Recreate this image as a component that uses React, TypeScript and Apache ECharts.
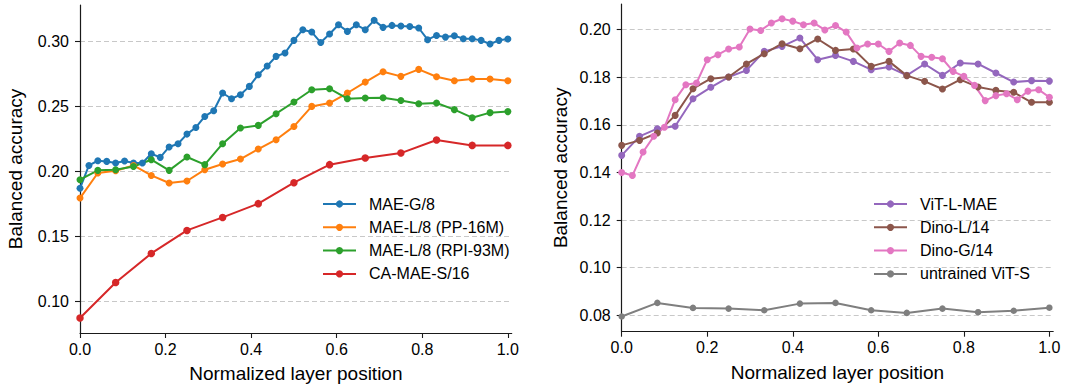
import React, { useEffect, useRef } from "react";
import * as echarts from "echarts";

// ---- Left panel data (balanced accuracy per normalized layer position) ----
const maeG8 = [0.187, 0.2046, 0.2082, 0.2077, 0.2065, 0.208, 0.2065, 0.2065, 0.2136, 0.2108, 0.2188, 0.2213, 0.2287, 0.2338, 0.2423, 0.2467, 0.2603, 0.2559, 0.259, 0.2654, 0.2744, 0.2811, 0.2885, 0.2911, 0.3008, 0.309, 0.3072, 0.2992, 0.3057, 0.3128, 0.3077, 0.3128, 0.309, 0.3162, 0.3108, 0.3123, 0.3118, 0.3115, 0.3103, 0.3013, 0.3046, 0.3033, 0.3044, 0.3021, 0.3021, 0.3008, 0.298, 0.3008, 0.3018];
const maeL8PP = [0.1795, 0.1988, 0.2005, 0.2046, 0.1969, 0.1911, 0.1926, 0.2013, 0.2057, 0.2095, 0.2172, 0.2244, 0.2346, 0.25, 0.2526, 0.2603, 0.2687, 0.2767, 0.2731, 0.2785, 0.2728, 0.2698, 0.2711, 0.2711, 0.2698];
const maeL8RPI = [0.1936, 0.2008, 0.2013, 0.2038, 0.209, 0.2008, 0.2111, 0.2052, 0.2213, 0.2334, 0.2354, 0.2444, 0.2534, 0.2628, 0.2636, 0.2559, 0.2565, 0.2567, 0.2546, 0.2521, 0.2526, 0.2475, 0.2413, 0.2452, 0.246];
const caMaeS16 = [0.0872, 0.1146, 0.1369, 0.1546, 0.1646, 0.1752, 0.1913, 0.2052, 0.2103, 0.2141, 0.2242, 0.22, 0.22];

// ---- Right panel data ----
const vitLMae = [0.1472, 0.1552, 0.1584, 0.1594, 0.171, 0.1758, 0.1801, 0.1829, 0.1909, 0.193, 0.1965, 0.1874, 0.1892, 0.1867, 0.1832, 0.1843, 0.1808, 0.1856, 0.1808, 0.186, 0.1856, 0.1818, 0.178, 0.1786, 0.1784];
const dinoL14 = [0.1514, 0.1535, 0.1566, 0.164, 0.1752, 0.1794, 0.1801, 0.1856, 0.1899, 0.1941, 0.192, 0.1961, 0.1913, 0.1919, 0.1846, 0.1867, 0.1807, 0.1783, 0.1751, 0.179, 0.1759, 0.1745, 0.1737, 0.1695, 0.1695];
const dinoG14 = [0.14, 0.1387, 0.1486, 0.1552, 0.159, 0.1706, 0.1769, 0.1776, 0.1874, 0.1895, 0.1919, 0.1927, 0.2003, 0.1997, 0.2028, 0.2046, 0.2036, 0.2021, 0.2028, 0.1999, 0.2018, 0.199, 0.1923, 0.194, 0.194, 0.1909, 0.1944, 0.1934, 0.1888, 0.1884, 0.1878, 0.1825, 0.1804, 0.1766, 0.1702, 0.1723, 0.1731, 0.1706, 0.1742, 0.1748, 0.1716];
const untrainedVitS = [0.0795, 0.0852, 0.0831, 0.0828, 0.0821, 0.0849, 0.0852, 0.0821, 0.081, 0.0828, 0.0813, 0.0819, 0.0832];

// ---- Names & ticks ----
const leftNames = ["MAE-G/8", "MAE-L/8 (PP-16M)", "MAE-L/8 (RPI-93M)", "CA-MAE-S/16"];
const rightNames = ["ViT-L-MAE", "Dino-L/14", "Dino-G/14", "untrained ViT-S"];
const xTicks = [0, 0.2, 0.4, 0.6, 0.8, 1.0];
const leftYTicks = [0.1, 0.15, 0.2, 0.25, 0.3];
const rightYTicks = [0.08, 0.1, 0.12, 0.14, 0.16, 0.18, 0.2];

const leftColors = ["#1f77b4", "#ff7f0e", "#2ca02c", "#d62728"];
const rightColors = ["#9467bd", "#8c564b", "#e377c2", "#7f7f7f"];

const FONT = "'Liberation Sans', Arial, Helvetica, sans-serif";

// normalized layer position for layer i of n
const toPoints = (vals: number[]) => vals.map((v, i) => [i / (vals.length - 1), v]);

export default function App() {
  const ref = useRef<HTMLDivElement>(null);

  useEffect(() => {
    if (!ref.current) return;
    const chart = echarts.init(ref.current, undefined, { renderer: "svg" });

    const axisLine = { show: true, lineStyle: { color: "#1a1a1a", width: 1.2 } };
    const axisTick = (vals: number[]) => ({
      show: true,
      length: 5,
      inside: false,
      customValues: vals,
      lineStyle: { color: "#1a1a1a", width: 1.1 },
    });
    const xAxisCommon = (gridIndex: number) => ({
      type: "value",
      gridIndex,
      min: 0,
      max: 1.009,
      name: "Normalized layer position",
      nameLocation: "middle",
      nameGap: 31,
      nameTextStyle: { fontSize: 19, color: "#000", fontFamily: FONT },
      axisLine,
      axisTick: axisTick(xTicks),
      axisLabel: {
        customValues: xTicks,
        formatter: (v: number) => v.toFixed(1),
        fontSize: 16,
        color: "#000",
        fontFamily: FONT,
        margin: 8,
      },
      splitLine: { show: false },
    });
    const yAxisCommon = (gridIndex: number, min: number, max: number, ticks: number[], gap: number) => ({
      type: "value",
      gridIndex,
      min,
      max,
      name: "Balanced accuracy",
      nameLocation: "middle",
      nameRotate: 90,
      nameGap: gap,
      nameTextStyle: { fontSize: 19, color: "#000", fontFamily: FONT },
      axisLine,
      axisTick: axisTick(ticks),
      axisLabel: {
        customValues: ticks,
        formatter: (v: number) => v.toFixed(2),
        fontSize: 16,
        color: "#000",
        fontFamily: FONT,
        margin: 11,
      },
      splitLine: {
        show: true,
        lineStyle: { color: "#c8c8c8", width: 1, type: [5, 3] },
      },
    });

    const mkSeries = (name: string, vals: number[], color: string, idx: number, size = 7) => ({
      type: "line",
      name,
      xAxisIndex: idx,
      yAxisIndex: idx,
      data: toPoints(vals),
      symbol: "circle",
      symbolSize: size,
      showSymbol: true,
      clip: true,
      lineStyle: { color, width: 2 },
      itemStyle: { color },
      emphasis: { disabled: true },
    });

    const legendCommon = {
      orient: "vertical",
      top: 196,
      padding: 0,
      itemWidth: 33,
      itemHeight: 9,
      itemGap: 7.3,
      textStyle: { fontSize: 16, color: "#000", fontFamily: FONT, padding: [0, 0, 0, 8] },
      selectedMode: false,
    };

    chart.setOption({
      animation: false,
      backgroundColor: "#fff",
      grid: [
        { left: 80, top: 5, width: 431.7, height: 328.3 },
        { left: 621.7, top: 4, width: 431.5, height: 327.7 },
      ],
      xAxis: [xAxisCommon(0), xAxisCommon(1)],
      yAxis: [
        yAxisCommon(0, 0.0757, 0.328, leftYTicks, 55),
        yAxisCommon(1, 0.0731, 0.2108, rightYTicks, 52),
      ],
      legend: [
        { ...legendCommon, left: 322, data: leftNames },
        { ...legendCommon, left: 873, data: rightNames },
      ],
      series: [
        mkSeries(leftNames[0], maeG8, leftColors[0], 0),
        mkSeries(leftNames[1], maeL8PP, leftColors[1], 0),
        mkSeries(leftNames[2], maeL8RPI, leftColors[2], 0),
        mkSeries(leftNames[3], caMaeS16, leftColors[3], 0, 7.5),
        mkSeries(rightNames[0], vitLMae, rightColors[0], 1),
        mkSeries(rightNames[1], dinoL14, rightColors[1], 1),
        mkSeries(rightNames[2], dinoG14, rightColors[2], 1),
        mkSeries(rightNames[3], untrainedVitS, rightColors[3], 1, 6.5),
      ],
    });

    return () => chart.dispose();
  }, []);

  return (
    <div
      ref={ref}
      style={{ position: "fixed", left: 0, top: 0, width: 1065, height: 388, background: "#fff" }}
    />
  );
}
